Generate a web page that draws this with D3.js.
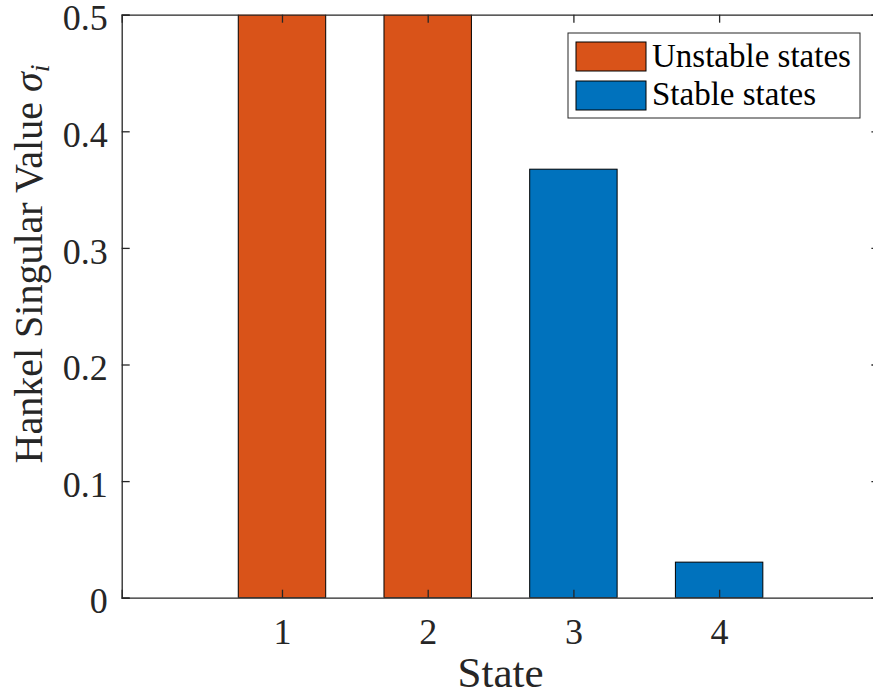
<!DOCTYPE html>
<html><head><meta charset="utf-8">
<script src="https://cdn.jsdelivr.net/npm/d3@7"></script>
</head><body style="margin:0"><svg id="c" width="873" height="698" style="display:block;background:#fff"></svg>
<script>
const states = [1, 2, 3, 4];
const hsv = [1.0, 1.0, 0.3675, 0.0305];
const stability = ["Unstable states", "Unstable states", "Stable states", "Stable states"];
const seriesNames = ["Unstable states", "Stable states"];
const seriesColors = ["#D95319", "#0072BD"];
const xTicks = [1, 2, 3, 4];
const yTicks = [0, 0.1, 0.2, 0.3, 0.4, 0.5];

const FONT = '"Liberation Serif"';
const svg = d3.select("#c");
const L = 121.7, T = 14.7, B = 597.7, R = 879.4;
const x = d3.scaleLinear().domain([-0.1, 5.1]).range([L, R]);
const y = d3.scaleLinear().domain([0, 0.5]).range([B, T]);
const color = d3.scaleOrdinal().domain(seriesNames).range(seriesColors);
const axisCol = "#262626";

svg.append("defs").append("clipPath").attr("id", "clip")
  .append("rect").attr("x", L).attr("y", T).attr("width", R - L).attr("height", B - T);

const bw = x(0.6) - x(0);
svg.append("g").attr("clip-path", "url(#clip)")
  .selectAll("rect").data(states).join("rect")
  .attr("x", (d) => x(d) - bw / 2)
  .attr("width", bw)
  .attr("y", (d, i) => y(hsv[i]))
  .attr("height", (d, i) => y(0) - y(hsv[i]))
  .attr("fill", (d, i) => color(stability[i]))
  .attr("stroke", "#000").attr("stroke-width", 1);

// axes
const tl = 8;
const gB = svg.append("g").attr("transform", `translate(0,${B})`)
  .call(d3.axisBottom(x).tickValues(xTicks).tickSize(-tl).tickPadding(21).tickFormat(d3.format("d")));
const gT = svg.append("g").attr("transform", `translate(0,${T})`)
  .call(d3.axisTop(x).tickValues(xTicks).tickSize(-tl).tickFormat(""));
const gL = svg.append("g").attr("transform", `translate(${L},0)`)
  .call(d3.axisLeft(y).tickValues(yTicks).tickSize(-tl).tickPadding(14).tickFormat((d) => d === 0 ? "0" : d3.format(".1f")(d)));
const gR = svg.append("g").attr("transform", `translate(${R},0)`)
  .call(d3.axisRight(y).tickValues(yTicks).tickSize(-tl).tickFormat(""));
[gB, gT, gL, gR].forEach((g) => {
  g.attr("font-family", null).attr("font-size", null);
  g.select(".domain").attr("stroke", axisCol).attr("stroke-width", 1.3);
  g.selectAll(".tick line").attr("stroke", axisCol).attr("stroke-width", 1.3);
  g.selectAll(".tick text").attr("fill", axisCol).style("font-size", "36px").style("font-family", FONT);
});
gL.selectAll(".tick text").attr("dy", "0.42em");
gB.selectAll(".tick text").attr("dy", "0.71em");

// axis labels
svg.append("text").attr("x", (L + R) / 2).attr("y", 687)
  .attr("text-anchor", "middle").style("font-size", "43px").style("font-family", FONT)
  .attr("fill", axisCol).text("State");
const yl = svg.append("text")
  .attr("transform", `translate(42,264) rotate(-90)`)
  .attr("text-anchor", "middle").style("font-size", "40px").style("font-family", FONT)
  .attr("fill", axisCol);
yl.append("tspan").text("Hankel Singular Value ");
yl.append("tspan").style("font-style", "italic").text("σ");
yl.append("tspan").style("font-style", "italic").style("font-size", "28px").attr("dy", 7).text("i");

// legend
const lg = svg.append("g");
lg.append("rect").attr("x", 568).attr("y", 33).attr("width", 292).attr("height", 85)
  .attr("fill", "#fff").attr("stroke", axisCol).attr("stroke-width", 1);
seriesNames.forEach((s, i) => {
  lg.append("rect").attr("x", 576).attr("y", 42 + i * 39).attr("width", 70).attr("height", 29)
    .attr("fill", color(s)).attr("stroke", "#000").attr("stroke-width", 1);
  lg.append("text").attr("x", 652).attr("y", 67 + i * 38)
    .style("font-size", "33px").style("font-family", FONT).attr("fill", "#000").text(s);
});
</script></body></html>
